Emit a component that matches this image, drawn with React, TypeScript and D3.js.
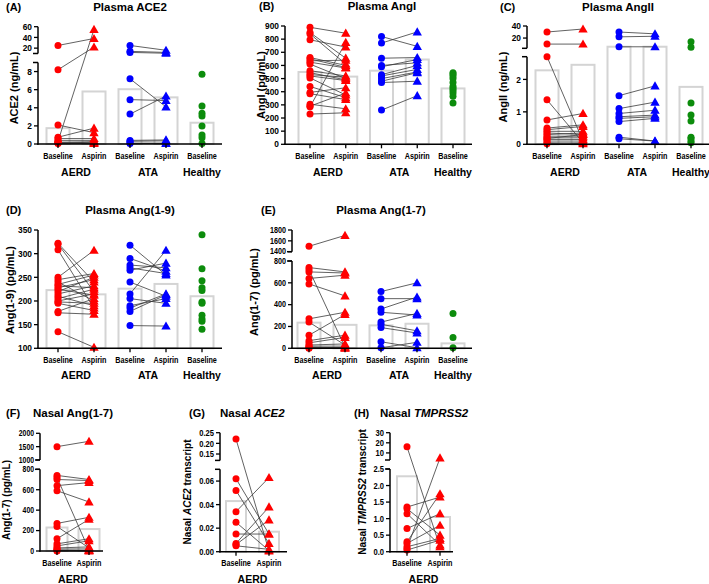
import React from 'react';
import * as d3 from 'd3';

const RED = '#ff0000';
const BLUE = '#0000ff';
const GREEN = '#0c8c0c';
const BAR = '#d4d4d4';
const LINE = '#3a3a3a';

const catsPlasma = ['AERD|Baseline', 'AERD|Aspirin', 'ATA|Baseline', 'ATA|Aspirin', 'Healthy|Baseline'];
const catsNasal = ['AERD|Baseline', 'AERD|Aspirin'];

// (A) Plasma ACE2 (ng/mL)
const aceAerdBase = [25, 8.2, 0.3, 2.1, 0.75, 0.6, 0.4, 0.2, 0.15, 0.1, 0.05];
const aceAerdAsp = [38, 22, 55, 1.25, 1.75, 0.6, 0.4, 0.25, 0.1, 0.2, 0.05];
const aceAtaBase = [25, 14, 12, 7.2, 4.9, 3.3, 0.4, 0.3, 0.1, 0.05];
const aceAtaAsp = [16, 12, 10.5, 4.1, 4.8, 5.3, 0.45, 0.35, 0.1, 0.05];
const aceHealthy = [7.7, 4.2, 3.4, 3.1, 2.0, 1.0, 0.7, 0.05];
const aceBars = [1.75, 5.8, 6.05, 5.15, 2.35];

// (B) Plasma AngI (pg/mL)
const angIAerdBase = [890, 850, 840, 795, 660, 650, 635, 625, 610, 560, 545, 530, 520, 505, 440, 395, 385, 305, 290, 285, 230];
const angIAerdAsp = [845, 655, 610, 740, 600, 585, 640, 580, 500, 520, 490, 510, 485, 375, 355, 430, 340, 270, 390, 775, 240];
const angIAtaBase = [820, 770, 655, 600, 590, 530, 520, 500, 480, 470, 260];
const angIAtaAsp = [745, 855, 660, 620, 645, 600, 570, 550, 545, 480, 370];
const angIHealthy = [545, 535, 520, 500, 470, 440, 425, 410, 390, 365, 315];
const angIBars = [550, 515, 560, 645, 425];

// (C) Plasma AngII (ng/mL)
const angIIAerdBase = [30, 10, 2.7, 1.37, 0.75, 0.5, 0.45, 0.4, 0.35, 0.3, 0.25, 0.2, 0.18, 0.15, 0.1, 0.05, 0.02];
const angIIAerdAsp = [35, 10, 0.1, 0.05, 0.95, 0.6, 0.55, 0.4, 0.3, 0.35, 0.25, 0.2, 0.3, 0.15, 0.1, 0.02, 0.05];
const angIIAtaBase = [30, 22, 5.5, 1.5, 1.1, 0.95, 0.85, 0.8, 0.7, 0.22, 0.17];
const angIIAtaAsp = [27, 23, 5.5, 1.8, 1.3, 1.05, 0.9, 0.85, 0.8, 0.1, 0.1];
const angIIHealthy = [14, 4.7, 1.27, 0.9, 0.72, 0.22, 0.18, 0.1, 0.05];
const angIIBars = [2.28, 2.45, 5.6, 5.6, 1.77];

// (D) Plasma Ang(1-9) (pg/mL)
const ang19AerdBase = [322, 320, 308, 250, 245, 240, 235, 232, 228, 225, 220, 215, 210, 205, 200, 198, 195, 178, 175, 135];
const ang19AerdAsp = [240, 220, 185, 307, 258, 200, 255, 228, 245, 212, 250, 232, 190, 225, 215, 195, 180, 205, 172, 102];
const ang19AtaBase = [318, 290, 276, 270, 265, 240, 215, 205, 190, 185, 178, 148];
const ang19AtaAsp = [255, 263, 270, 258, 280, 210, 307, 195, 205, 215, 213, 147];
const ang19Healthy = [340, 268, 243, 228, 222, 198, 195, 170, 162, 157, 140];
const ang19Bars = [223, 214, 226, 236, 210];

// (E) Plasma Ang(1-7) and (F) Nasal Ang(1-7) (pg/mL)
const ang17AerdBase = [1500, 740, 720, 700, 640, 590, 270, 240, 120, 70, 50, 30, 20, 10, 5, 0];
const ang17AerdAsp = [1700, 700, 10, 690, 670, 480, 330, 30, 310, 120, 100, 40, 20, 5, 0, 5];
const ang17AtaBase = [520, 455, 360, 330, 240, 220, 190, 60, 5];
const ang17AtaAsp = [600, 455, 470, 305, 320, 160, 140, 5, 55];
const ang17Healthy = [320, 100, 5];
const ang17Bars = [235, 215, 210, 225, 45];
const nasalAng17Bars = [230, 215];

// (G) Nasal ACE2 transcript
const ace2NasalBase = [0.22, 0.062, 0.052, 0.034, 0.025, 0.015, 0.007, 0.006, 0.005];
const ace2NasalAsp = [0.0005, 0.015, 0.007, 0.063, 0.001, 0.015, 0.038, 0.027, 0.002];
const ace2NasalBars = [0.043, 0.017];

// (H) Nasal TMPRSS2 transcript
const tmprssBase = [16, 1.35, 1.3, 1.15, 0.7, 0.3, 0.25, 0.15, 0.1, 0.05];
const tmprssAsp = [0.15, 1.65, 0.5, 0.2, 1.15, 1.75, 0.8, 0.4, 5, 0.35];
const tmprssBars = [2.28, 1.05];

const fInt = d3.format('d');
const f2 = d3.format('.2f');
const f1 = d3.format('.1f');
const range = (a: number, b: number, s: number) => d3.range(a, b + s / 2, s);

interface Seg { domain: [number, number]; range: [number, number]; ticks: number[]; fmt: (v: number) => string; }
interface PairSet { group: string; base: number[]; asp: number[]; color: string; }
interface SingleSet { cat: string; vals: number[]; color: string; }
interface PanelCfg {
  tag: string; tagX: number; titleX: number; titleY: number; titleAnchor: 'start' | 'middle';
  title: React.ReactNode; yLabel: React.ReactNode; yLabelX: number; yLabelY: number; yLabelSize: number;
  axisX: number; xRange: [number, number]; xEnd: number; cats: string[];
  lower: Seg; upper?: Seg; barW: number; bars: number[]; yTickSX: number; yTickSize: number;
  pairs: PairSet[]; singles: SingleSet[]; tickLabelY: number; groupLabelY: number;
}

const SANS = '"Liberation Sans", Arial, Helvetica, sans-serif';

const triangle = d3.symbol(d3.symbolTriangle, 38)() as string;

function CText({ x, y, sx, size, anchor, children }: { x: number; y: number; sx: number; size: number; anchor: string; children: React.ReactNode }) {
  return (
    <text transform={`translate(${x},${y}) scale(${sx},1)`} fontFamily={SANS} fontWeight="bold" fontSize={size} textAnchor={anchor} dominantBaseline="central">{children}</text>
  );
}

function Panel({ cfg }: { cfg: PanelCfg }) {
  const x = d3.scalePoint<string>().domain(cfg.cats).range(cfg.xRange);
  const segs = cfg.upper ? [cfg.lower, cfg.upper] : [cfg.lower];
  const y = d3.scaleLinear()
    .domain(segs.flatMap((s) => s.domain))
    .range(segs.flatMap((s) => s.range));
  const y0 = cfg.lower.range[0];
  const groups = Array.from(new Set(cfg.cats.map((c) => c.split('|')[0])));
  return (
    <g>
      <text x={cfg.tagX} y={cfg.titleY} fontFamily={SANS} fontWeight="bold" fontSize={11} dominantBaseline="central">{cfg.tag}</text>
      <text x={cfg.titleX} y={cfg.titleY} fontFamily={SANS} fontWeight="bold" fontSize={11.5} textAnchor={cfg.titleAnchor} dominantBaseline="central">{cfg.title}</text>
      <text transform={`translate(${cfg.yLabelX},${cfg.yLabelY}) rotate(-90)`} fontFamily={SANS} fontWeight="bold" fontSize={cfg.yLabelSize} textAnchor="middle" dominantBaseline="central">{cfg.yLabel}</text>
      {/* bars */}
      {cfg.bars.map((v, i) => (
        <rect key={'b' + i} x={(x(cfg.cats[i]) as number) - cfg.barW / 2} y={y(v)} width={cfg.barW} height={y0 - y(v)} fill="none" stroke={BAR} strokeWidth={2} />
      ))}
      {/* paired lines */}
      {cfg.pairs.map((p, pi) => p.base.map((b, i) => (
        <line key={`l${pi}-${i}`} x1={x(p.group + '|Baseline')} y1={y(b)} x2={x(p.group + '|Aspirin')} y2={y(p.asp[i])} stroke={LINE} strokeWidth={0.8} />
      )))}
      {/* markers */}
      {cfg.pairs.map((p, pi) => p.base.map((b, i) => (
        <circle key={`c${pi}-${i}`} cx={x(p.group + '|Baseline')} cy={y(b)} r={3.5} fill={p.color} />
      )))}
      {cfg.pairs.map((p, pi) => p.asp.map((a, i) => (
        <path key={`t${pi}-${i}`} d={triangle} transform={`translate(${x(p.group + '|Aspirin')},${y(a) + 0.8})`} fill={p.color} />
      )))}
      {cfg.singles.map((s, si) => s.vals.map((v, i) => (
        <circle key={`s${si}-${i}`} cx={x(s.cat)} cy={y(v)} r={3.5} fill={s.color} />
      )))}
      {/* y axis segments */}
      {segs.map((s, si) => (
        <g key={'ax' + si}>
          <line x1={cfg.axisX} x2={cfg.axisX} y1={s.range[0] + (si === 0 ? 0.75 : 0)} y2={s.range[1]} stroke="#000" strokeWidth={1.5} />
          {cfg.upper && (
            <line x1={cfg.axisX - 5} x2={cfg.axisX} y1={si === 0 ? s.range[1] : s.range[0]} y2={si === 0 ? s.range[1] : s.range[0]} stroke="#000" strokeWidth={1.5} />
          )}
          {s.ticks.map((t) => (
            <g key={t}>
              <line x1={cfg.axisX - 4} x2={cfg.axisX} y1={y(t)} y2={y(t)} stroke="#000" strokeWidth={1.3} />
              <CText x={cfg.axisX - 6} y={y(t)} sx={cfg.yTickSX} size={cfg.yTickSize} anchor="end">{s.fmt(t)}</CText>
            </g>
          ))}
        </g>
      ))}
      {/* x axis */}
      <line x1={cfg.axisX - 0.75} x2={cfg.xEnd} y1={y0} y2={y0} stroke="#000" strokeWidth={1.5} />
      {cfg.cats.map((c) => (
        <g key={c}>
          <line x1={x(c)} x2={x(c)} y1={y0} y2={y0 + 4} stroke="#000" strokeWidth={1.3} />
          <CText x={x(c) as number} y={cfg.tickLabelY} sx={0.76} size={9.5} anchor="middle">{c.split('|')[1]}</CText>
        </g>
      ))}
      {groups.map((g) => {
        const xs = cfg.cats.filter((c) => c.startsWith(g + '|')).map((c) => x(c) as number);
        return (
          <text key={g} x={d3.mean(xs)} y={cfg.groupLabelY} fontFamily={SANS} fontWeight="bold" fontSize={10.5} textAnchor="middle" dominantBaseline="central">{g}</text>
        );
      })}
    </g>
  );
}

const plasmaPairs = (ab: number[], aa: number[], tb: number[], ta: number[]): PairSet[] => [
  { group: 'AERD', base: ab, asp: aa, color: RED },
  { group: 'ATA', base: tb, asp: ta, color: BLUE },
];

const panels: PanelCfg[] = [
  {
    tag: '(A)', tagX: 6, titleX: 130, titleY: 7, titleAnchor: 'middle', title: 'Plasma ACE2',
    yLabel: 'ACE2 (ng/mL)', yLabelX: 14, yLabelY: 88, yLabelSize: 11,
    axisX: 38, xRange: [58, 202], xEnd: 222, cats: catsPlasma, yTickSX: 0.88, yTickSize: 9.5,
    lower: { domain: [0, 9], range: [144, 62.5], ticks: range(0, 8, 2), fmt: fInt },
    upper: { domain: [10, 60], range: [53.5, 26.7], ticks: [20, 40, 60], fmt: fInt },
    barW: 23, bars: aceBars,
    pairs: plasmaPairs(aceAerdBase, aceAerdAsp, aceAtaBase, aceAtaAsp),
    singles: [{ cat: 'Healthy|Baseline', vals: aceHealthy, color: GREEN }],
    tickLabelY: 156, groupLabelY: 172,
  },
  {
    tag: '(B)', tagX: 259, titleX: 382, titleY: 6, titleAnchor: 'middle', title: 'Plasma AngI',
    yLabel: 'AngI (pg/mL)', yLabelX: 261, yLabelY: 85, yLabelSize: 11,
    axisX: 285, xRange: [310, 453], xEnd: 472, cats: catsPlasma, yTickSX: 0.88, yTickSize: 9.5,
    lower: { domain: [0, 900], range: [144.3, 26], ticks: range(0, 900, 100), fmt: fInt },
    barW: 23, bars: angIBars,
    pairs: plasmaPairs(angIAerdBase, angIAerdAsp, angIAtaBase, angIAtaAsp),
    singles: [{ cat: 'Healthy|Baseline', vals: angIHealthy, color: GREEN }],
    tickLabelY: 156, groupLabelY: 172,
  },
  {
    tag: '(C)', tagX: 500, titleX: 618, titleY: 7, titleAnchor: 'middle', title: 'Plasma AngII',
    yLabel: 'AngII (ng/mL)', yLabelX: 503, yLabelY: 87, yLabelSize: 11,
    axisX: 527, xRange: [547, 691], xEnd: 709, cats: catsPlasma, yTickSX: 0.88, yTickSize: 9.5,
    lower: { domain: [0, 2.7], range: [144.3, 56.7], ticks: [0, 1, 2], fmt: fInt },
    upper: { domain: [3, 40], range: [48.3, 26], ticks: [20, 40], fmt: fInt },
    barW: 23, bars: angIIBars,
    pairs: plasmaPairs(angIIAerdBase, angIIAerdAsp, angIIAtaBase, angIIAtaAsp),
    singles: [{ cat: 'Healthy|Baseline', vals: angIIHealthy, color: GREEN }],
    tickLabelY: 156, groupLabelY: 172,
  },
  {
    tag: '(D)', tagX: 6, titleX: 130, titleY: 210, titleAnchor: 'middle', title: 'Plasma Ang(1-9)',
    yLabel: 'Ang(1-9) (pg/mL)', yLabelX: 10, yLabelY: 290, yLabelSize: 11,
    axisX: 38, xRange: [58, 202], xEnd: 222, cats: catsPlasma, yTickSX: 0.88, yTickSize: 9.5,
    lower: { domain: [100, 350], range: [348.3, 230], ticks: range(100, 350, 50), fmt: fInt },
    barW: 23, bars: ang19Bars,
    pairs: plasmaPairs(ang19AerdBase, ang19AerdAsp, ang19AtaBase, ang19AtaAsp),
    singles: [{ cat: 'Healthy|Baseline', vals: ang19Healthy, color: GREEN }],
    tickLabelY: 360, groupLabelY: 375,
  },
  {
    tag: '(E)', tagX: 261, titleX: 381, titleY: 210, titleAnchor: 'middle', title: 'Plasma Ang(1-7)',
    yLabel: 'Ang(1-7) (pg/mL)', yLabelX: 254, yLabelY: 292, yLabelSize: 11,
    axisX: 292, xRange: [309, 453], xEnd: 472, cats: catsPlasma, yTickSX: 0.82, yTickSize: 8.8,
    lower: { domain: [0, 800], range: [348.3, 261], ticks: range(0, 800, 200), fmt: fInt },
    upper: { domain: [1400, 1800], range: [251.7, 230], ticks: [1400, 1600, 1800], fmt: fInt },
    barW: 23, bars: ang17Bars,
    pairs: plasmaPairs(ang17AerdBase, ang17AerdAsp, ang17AtaBase, ang17AtaAsp),
    singles: [{ cat: 'Healthy|Baseline', vals: ang17Healthy, color: GREEN }],
    tickLabelY: 360, groupLabelY: 375,
  },
  {
    tag: '(F)', tagX: 6, titleX: 33, titleY: 413, titleAnchor: 'start', title: 'Nasal Ang(1-7)',
    yLabel: 'Ang(1-7) (pg/mL)', yLabelX: 6, yLabelY: 500, yLabelSize: 10,
    axisX: 40, xRange: [57, 89], xEnd: 103, cats: catsNasal, yTickSX: 0.72, yTickSize: 9.5,
    lower: { domain: [0, 800], range: [551, 469.3], ticks: range(0, 800, 200), fmt: fInt },
    upper: { domain: [1000, 2000], range: [460, 433.3], ticks: [1000, 1500, 2000], fmt: fInt },
    barW: 21, bars: nasalAng17Bars,
    pairs: [{ group: 'AERD', base: ang17AerdBase, asp: ang17AerdAsp, color: RED }],
    singles: [], tickLabelY: 563, groupLabelY: 579,
  },
  {
    tag: '(G)', tagX: 189, titleX: 220, titleY: 413, titleAnchor: 'start',
    title: <>Nasal <tspan fontStyle="italic">ACE2</tspan></>,
    yLabel: <>Nasal <tspan fontStyle="italic">ACE2</tspan> transcript</>, yLabelX: 187, yLabelY: 492, yLabelSize: 10,
    axisX: 220, xRange: [236, 269], xEnd: 287, cats: catsNasal, yTickSX: 0.8, yTickSize: 9.5,
    lower: { domain: [0, 0.07], range: [551.7, 469.3], ticks: [0, 0.02, 0.04, 0.06], fmt: f2 },
    upper: { domain: [0.12, 0.25], range: [460.4, 432.7], ticks: [0.15, 0.2, 0.25], fmt: f2 },
    barW: 20, bars: ace2NasalBars,
    pairs: [{ group: 'AERD', base: ace2NasalBase, asp: ace2NasalAsp, color: RED }],
    singles: [], tickLabelY: 563, groupLabelY: 579,
  },
  {
    tag: '(H)', tagX: 354, titleX: 380, titleY: 413, titleAnchor: 'start',
    title: <>Nasal <tspan fontStyle="italic">TMPRSS2</tspan></>,
    yLabel: <>Nasal <tspan fontStyle="italic">TMPRSS2</tspan> transcript</>, yLabelX: 362, yLabelY: 492, yLabelSize: 10,
    axisX: 390, xRange: [407, 440], xEnd: 453, cats: catsNasal, yTickSX: 0.8, yTickSize: 9.5,
    lower: { domain: [0, 2.5], range: [551.7, 469], ticks: range(0, 2.5, 0.5), fmt: f1 },
    upper: { domain: [3, 30], range: [460, 432.7], ticks: [10, 20, 30], fmt: fInt },
    barW: 20, bars: tmprssBars,
    pairs: [{ group: 'AERD', base: tmprssBase, asp: tmprssAsp, color: RED }],
    singles: [], tickLabelY: 563, groupLabelY: 579,
  },
];

export default function App() {
  return (
    <svg width={709} height={584} viewBox="0 0 709 584" style={{ position: 'absolute', left: 0, top: 0, background: '#fff' }}>
      <rect width={709} height={584} fill="#fff" />
      {panels.map((p) => <Panel key={p.tag} cfg={p} />)}
    </svg>
  );
}
